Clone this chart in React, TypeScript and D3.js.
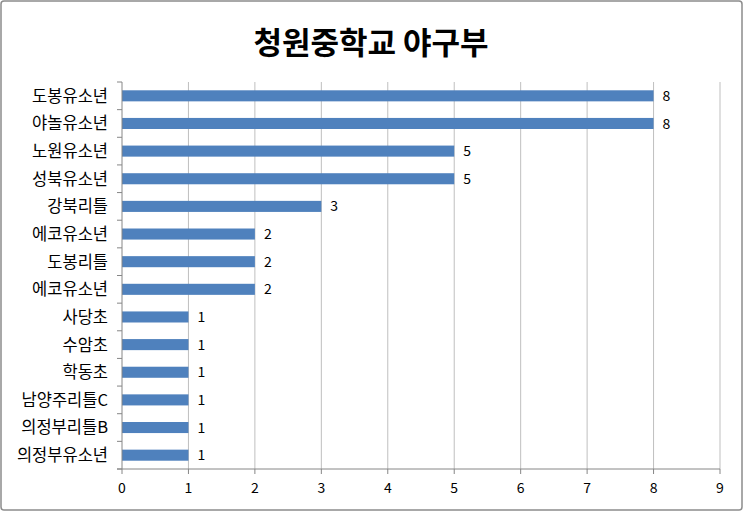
import React from "react";
import * as d3 from "d3";

const title = "청원중학교 야구부";
const categories = [
  "도봉유소년",
  "야놀유소년",
  "노원유소년",
  "성북유소년",
  "강북리틀",
  "에코유소년",
  "도봉리틀",
  "에코유소년",
  "사당초",
  "수암초",
  "학동초",
  "남양주리틀C",
  "의정부리틀B",
  "의정부유소년",
];
const values = [8, 8, 5, 5, 3, 2, 2, 2, 1, 1, 1, 1, 1, 1];
const xTicks = [0, 1, 2, 3, 4, 5, 6, 7, 8, 9];

const W = 743;
const H = 511;
const margin = { left: 122, right: 23, top: 82, bottom: 42 };
const FONT = "'Noto Sans CJK KR', 'Noto Sans', sans-serif";

export default function App() {
  const x = d3.scaleLinear().domain([0, 9]).range([margin.left, W - margin.right]);
  const idx = categories.map((_, i) => String(i));
  const y = d3
    .scaleBand<string>()
    .domain(idx)
    .range([margin.top, H - margin.bottom])
    .paddingInner(0.6)
    .paddingOuter(0.3);
  const step = y.step();
  const y0 = margin.top;
  const y1 = H - margin.bottom;
  const boundaries = d3.range(categories.length + 1).map((i) => y0 + i * step);

  return (
    <svg
      width={W}
      height={H}
      style={{ position: "absolute", left: 0, top: 0, background: "#fff" }}
      fontFamily={FONT}
    >
      <rect x={1} y={1} width={W - 2} height={H - 2} rx={3} fill="#fff" stroke="#8c8c8c" strokeWidth={1.5} />
      <text x={371} y={54} textAnchor="middle" fontSize={31} fontWeight="bold" fill="#000">
        {title}
      </text>
      {/* gridlines */}
      {xTicks.slice(1).map((t) => (
        <line key={"g" + t} x1={x(t)} x2={x(t)} y1={y0} y2={y1} stroke="#bfbfbf" strokeWidth={1} />
      ))}
      {/* bars */}
      {values.map((v, i) => (
        <rect
          key={"b" + i}
          x={x(0)}
          y={(y(String(i)) as number)}
          width={x(v) - x(0)}
          height={y.bandwidth()}
          fill="#4f81bd"
        />
      ))}
      {/* value labels */}
      {values.map((v, i) => (
        <text
          key={"v" + i}
          x={x(v) + 9}
          y={(y(String(i)) as number) + y.bandwidth() / 2}
          dy="0.36em"
          fontSize={14}
          fill="#000"
        >
          {v}
        </text>
      ))}
      {/* axes */}
      <line x1={x(0)} x2={x(0)} y1={y0} y2={y1} stroke="#868686" strokeWidth={1} />
      <line x1={x(0) - 5} x2={x(9)} y1={y1} y2={y1} stroke="#868686" strokeWidth={1} />
      {boundaries.map((b, i) => (
        <line key={"yt" + i} x1={x(0) - 5} x2={x(0)} y1={b} y2={b} stroke="#868686" strokeWidth={1} />
      ))}
      {xTicks.map((t) => (
        <line key={"xt" + t} x1={x(t)} x2={x(t)} y1={y1} y2={y1 + 5} stroke="#868686" strokeWidth={1} />
      ))}
      {xTicks.map((t) => (
        <text key={"xl" + t} x={x(t)} y={y1 + 24} textAnchor="middle" fontSize={14} fill="#000">
          {t}
        </text>
      ))}
      {categories.map((c, i) => (
        <text
          key={"c" + i}
          x={x(0) - 14}
          y={(y(String(i)) as number) + y.bandwidth() / 2}
          dy="0.36em"
          textAnchor="end"
          fontSize={16.5}
          fill="#000"
        >
          {c}
        </text>
      ))}
    </svg>
  );
}
